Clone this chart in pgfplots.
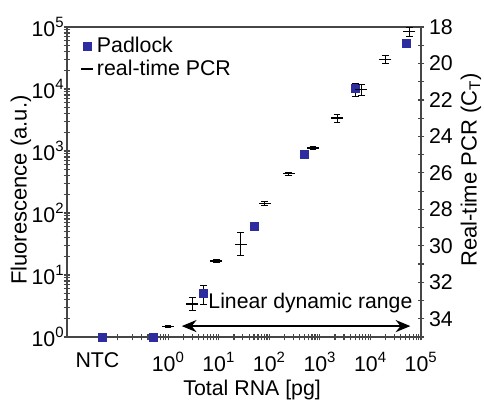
\documentclass[border=0pt]{standalone}
\usepackage{fontspec}
\setmainfont{Liberation Sans}
\usepackage{pgfplots}
\pgfplotsset{compat=1.18}
\usepackage{pgfplotstable}
\usetikzlibrary{calc,arrows.meta}

\definecolor{padblue}{RGB}{45,45,160}
\definecolor{axgray}{RGB}{70,70,70}

\pgfplotstableread{
x y ep em
0.05 1 0 0
0.5 1 0 0
5 5.07 1.8 1.7
50 62 0 0
500 880 0 0
5000 10200 2200 2500
50000 54000 0 0
}\padlock

\pgfplotstableread{
x ct err
1 34.42 0.08
3 33.19 0.34
9 30.83 0.1
27 29.91 0.64
81 27.67 0.1
243 26.05 0.1
729 24.63 0.1
2187 22.99 0.22
6561 21.44 0.3
19683 19.77 0.23
59049 18.26 0.24
}\pcr

\pgfplotsset{
  every axis/.append style={
    scale only axis, width=265.5pt, height=232.5pt,
    xmode=log, xmin=0.01, xmax=1e5,
    font=\fontsize{16}{19}\selectfont,
    axis line style={axgray, line width=0.9pt},
    tick style={axgray, line width=0.9pt},
    tick align=center, major tick length=5pt, minor tick length=5pt,
    clip=false,
  }
}

\begin{document}
\begin{tikzpicture}
\begin{axis}[name=ax,
  ymode=log, ymin=1, ymax=1e5,
  xtick pos=left, ytick pos=left,
  xtick={0.1,1,10,100,1000,10000,100000},
  xticklabels={,10\textsuperscript{0},10\textsuperscript{1},10\textsuperscript{2},10\textsuperscript{3},10\textsuperscript{4},10\textsuperscript{5}},
  extra x ticks={0.04}, extra x tick labels={NTC},
  extra x tick style={major tick length=0pt},
  xticklabel style={anchor=base, yshift=-23pt},
  ytick={1,10,100,1000,10000,100000},
  yticklabels={10\textsuperscript{0},10\textsuperscript{1},10\textsuperscript{2},10\textsuperscript{3},10\textsuperscript{4},10\textsuperscript{5}},
  yticklabel style={xshift=4pt},
  xlabel={Total RNA [pg]},
  xlabel style={at={(axis description cs:0.523,0)}, anchor=base, yshift=-44pt},
  ylabel={Fluorescence (a.u.)},
  ylabel style={at={(axis description cs:-0.13,0.474)}, anchor=center, font=\fontsize{16.5}{19}\selectfont},
  minor tick num=0,
]
\addplot[only marks, mark=square*, mark size=3pt, padblue,
  error bars/.cd, y dir=both, y explicit,
  error mark options={rotate=90, mark size=2.5pt, black, line width=0.6pt},
  error bar style={black, line width=0.6pt}]
  table[x=x, y=y, y error plus=ep, y error minus=em] {\padlock};
\draw[{Stealth[length=11pt,width=9pt]}-{Stealth[length=11pt,width=9pt]}, line width=1.8pt]
  (axis cs:1.86,1.5) -- (axis cs:61700,1.5);
\node[anchor=base west, inner sep=0pt, font=\fontsize{15.9}{19}\selectfont] at (axis cs:6.2,2.85) {Linear dynamic range};
\end{axis}
\begin{axis}[
  axis x line=none, axis y line*=right,
  ymin=18, ymax=35, y dir=reverse,
  ytick={18,20,...,34},
  yticklabels={18,20,22,24,26,28,30,32,34},
  minor ytick={19,21,...,35},
  ylabel={Real-time PCR (C\textsubscript{T})},
  ylabel style={at={(axis description cs:1.141,0.539)}, anchor=center, font=\fontsize{16.5}{19}\selectfont},
  legend style={at={(0.035,0.98)}, anchor=north west, draw=none, fill=none,
    font=\fontsize{16}{19}\selectfont, row sep=0pt, inner sep=1pt,
    nodes={inner xsep=3pt}},
  legend cell align=left,
]
\addlegendimage{only marks, mark=square*, mark size=3pt, padblue}
\addlegendentry{Padlock}
\addplot[only marks, mark=-, mark size=4.5pt, black, mark options={line width=0.9pt},
  error bars/.cd, y dir=both, y explicit,
  error mark options={rotate=90, mark size=2.5pt, black, line width=0.6pt},
  error bar style={black, line width=0.6pt}]
  table[x=x, y=ct, y error=err] {\pcr};
\addlegendentry{real-time PCR}
\end{axis}
\pgfresetboundingbox
\path ($(ax.south west)+(-50.25pt,-47.25pt)$) rectangle ($(ax.north east)+(47.25pt,20.25pt)$);
\end{tikzpicture}
\end{document}
